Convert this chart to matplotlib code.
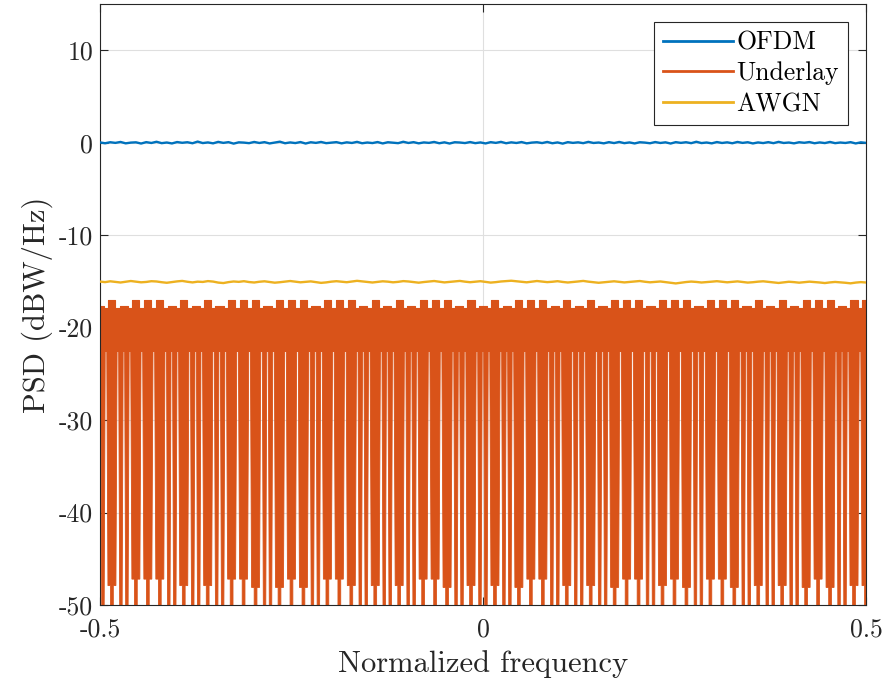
import numpy as np
import matplotlib
matplotlib.use("Agg")
import matplotlib.pyplot as plt
from matplotlib.lines import Line2D

# ---------------- data ----------------
x_ticks = [-0.5, 0, 0.5]
x_tick_labels = ["-0.5", "0", "0.5"]
y_ticks = [-50, -40, -30, -20, -10, 0, 10]
y_tick_labels = ["-50", "-40", "-30", "-20", "-10", "0", "10"]
series_names = ["OFDM", "Underlay", "AWGN"]

# OFDM PSD (dBW/Hz), evenly spaced over [-0.5, 0.5]
ofdm_psd = [
    0.03, -0.06, 0.05, -0.02, 0.08, -0.07, 0.01, 0.04, -0.09, 0.06,
    -0.03, 0.10, -0.05, 0.02, -0.08, 0.07, -0.01, 0.05, -0.06, 0.12,
    -0.04, 0.03, -0.07, 0.09, -0.02, 0.06, -0.10, 0.04, 0.01, -0.05,
    0.08, -0.03, 0.06, -0.08, 0.02, 0.11, -0.06, 0.03, -0.04, 0.07,
    -0.09, 0.05, -0.02, 0.08, -0.05, 0.01, 0.06, -0.07, 0.04, -0.03,
    0.09, -0.06, 0.02, -0.04, 0.07, -0.08, 0.05, 0.00, -0.05, 0.10,
    -0.03, 0.06, -0.07, 0.03, -0.02, 0.08, -0.06, 0.04, -0.09, 0.05,
    0.02, -0.04, 0.07, -0.05, 0.03, -0.08, 0.06, -0.02, 0.09, -0.06,
    0.04, -0.03, 0.07, -0.07, 0.01, 0.05, -0.04, 0.08, -0.06, 0.03,
    -0.10, 0.06, -0.02, 0.04, -0.05, 0.09, -0.03, 0.02, -0.07, 0.06,
    -0.04, 0.08, -0.05, 0.03, -0.08, 0.05, 0.01, -0.06, 0.07, -0.03,
    0.04, -0.09, 0.06, -0.02, 0.05, -0.05, 0.10, -0.04, 0.02, -0.07,
    0.07, -0.03, 0.04, -0.06, 0.08, -0.02, 0.05, -0.08, 0.03, -0.04,
    0.06, -0.05, 0.09, -0.03, 0.02, -0.07, 0.05, -0.01, 0.07, -0.06,
    0.03, -0.04, 0.08, -0.05, 0.02, -0.03, 0.06, -0.08, 0.04, -0.02,
]

# AWGN PSD (dBW/Hz), evenly spaced over [-0.5, 0.5]
awgn_psd = [
    -15.02, -15.08, -14.99, -15.05, -15.12, -15.04, -14.96, -15.03, -15.10, -15.06,
    -14.98, -15.01, -15.09, -15.15, -15.07, -15.00, -14.95, -15.04, -15.11, -15.03,
    -15.06, -14.97, -15.02, -15.13, -15.18, -15.08, -15.01, -15.05, -14.98, -15.07,
    -15.12, -15.04, -14.99, -15.06, -15.14, -15.09, -15.02, -14.96, -15.03, -15.10,
    -15.05, -15.00, -15.08, -15.16, -15.11, -15.03, -14.98, -15.04, -15.09, -15.02,
    -14.94, -15.00, -15.07, -15.12, -15.06, -14.99, -15.03, -15.10, -15.05, -14.97,
    -15.01, -15.08, -15.14, -15.07, -15.02, -14.96, -15.04, -15.11, -15.06, -15.00,
    -14.95, -15.03, -15.09, -15.04, -14.98, -15.06, -15.13, -15.08, -15.01, -14.97,
    -14.93, -14.99, -15.05, -15.10, -15.03, -14.96, -15.02, -15.08, -15.04, -14.98,
    -15.06, -15.12, -15.07, -15.01, -14.95, -15.03, -15.09, -15.15, -15.10, -15.04,
    -14.99, -15.05, -15.11, -15.06, -15.00, -14.96, -15.04, -15.10, -15.05, -15.01,
    -15.08, -15.16, -15.22, -15.14, -15.07, -15.02, -15.06, -15.12, -15.08, -15.03,
    -14.98, -15.04, -15.10, -15.05, -15.00, -15.07, -15.13, -15.09, -15.03, -14.99,
    -15.05, -15.11, -15.17, -15.10, -15.04, -15.08, -15.14, -15.09, -15.03, -15.07,
    -15.12, -15.18, -15.11, -15.06, -15.10, -15.15, -15.21, -15.13, -15.08, -15.12,
]

# Underlay: subcarrier groups of width 1/64 centred at -0.5 + n/64 (n = 0..64).
# 'A' groups are raised and carry one wide null, 'B' groups carry two narrow nulls.
slot_kind = ("BABAAABABA" "BAAABAAABA" "AABABABAAA" "BABABAAABA"
             "BABAAABAAA" "BAAABABABA" "AABAA")
peak_level = -17.0       # top of the raised groups
shoulder_level = -17.65  # top of the plain groups
base_level = -17.9       # level between groups
ripple_floor = -22.6     # lower edge of the dense ripple band
# depth where each wide null narrows into its stem (one per 'A' group, in order)
null_depth_a = [
    -47.9, -47.2, -47.2, -47.2, -47.9, -47.9, -47.2, -47.2, -48.1, -48.1,
    -47.2, -48.1, -47.2, -47.2, -47.9, -47.9, -47.9, -47.2, -47.2, -48.1,
    -47.9, -47.9, -48.1, -47.2, -47.2, -47.9, -47.9, -48.1, -47.2, -47.2,
    -47.9, -47.2, -48.1, -47.2, -47.2, -48.1, -47.9, -47.9, -48.1, -47.2,
    -48.1, -47.9, -47.9,
]
null_depth_b = -60.0     # narrow nulls run off the bottom of the axes

# ---------------- style ----------------
c_ofdm, c_under, c_awgn = "#0072BD", "#D95319", "#EDB120"
slot_w = 1.0 / 64
bump_half = 0.0046
shoulder_half = 0.0055
wide_half_top, wide_half_bot, stem_half = 0.0068, 0.0052, 0.0018
pair_offset, narrow_half_top, narrow_half_bot = 0.0039, 0.0030, 0.0016

plt.rcParams["font.family"] = "cmr10"
plt.rcParams["axes.unicode_minus"] = False
plt.rcParams["mathtext.fontset"] = "cm"

fig = plt.figure(figsize=(8.87, 6.89), dpi=100)
ax = fig.add_axes([0.1127, 0.1219, 0.8636, 0.8723])

# OFDM
xo = np.linspace(-0.5, 0.5, len(ofdm_psd))
ax.plot(xo, ofdm_psd, color=c_ofdm, lw=1.7, zorder=3)

# Underlay: ripple band with group-dependent top, plus the spectral nulls
ux, uy = [], []
polys = []
ia = 0
for n, kind in enumerate(slot_kind):
    c = -0.5 + n * slot_w
    h = bump_half if kind == "A" else shoulder_half
    top = peak_level if kind == "A" else shoulder_level
    ux += [c - slot_w / 2, c - h, c - h, c + h, c + h, c + slot_w / 2]
    uy += [base_level, base_level, top, top, base_level, base_level]
    if kind == "A":
        d = null_depth_a[ia]
        ia += 1
        polys.append((
            [c - wide_half_top, c - wide_half_bot, c - stem_half, c - stem_half,
             c + stem_half, c + stem_half, c + wide_half_bot, c + wide_half_top],
            [ripple_floor + 1, d, d, -60, -60, d, d, ripple_floor + 1]))
    else:
        for s in (-1, 1):
            m = c + s * pair_offset
            polys.append((
                [m - narrow_half_top, m - narrow_half_bot, m - narrow_half_bot,
                 m + narrow_half_bot, m + narrow_half_bot, m + narrow_half_top],
                [ripple_floor + 1, -50, null_depth_b, null_depth_b, -50, ripple_floor + 1]))

ux = np.array(ux)
uy = np.array(uy)
ax.fill_between(ux, ripple_floor, uy, color=c_under, lw=0, zorder=2)
ax.plot(ux, uy, color=c_under, lw=0.8, zorder=2)
for px, py in polys:
    ax.fill(px, py, color=c_under, lw=0.6, ec=c_under, zorder=2)

# AWGN
xa = np.linspace(-0.5, 0.5, len(awgn_psd))
ax.plot(xa, awgn_psd, color=c_awgn, lw=1.7, zorder=3)

# axes
ax.set_xlim(-0.5, 0.5)
ax.set_ylim(-50, 15)
ax.set_xticks(x_ticks)
ax.set_xticklabels(x_tick_labels)
ax.set_yticks(y_ticks)
ax.set_yticklabels(y_tick_labels)
ax.tick_params(direction="in", length=6, width=0.8, colors="#262626",
               labelsize=18.5, top=True, right=True)
ax.tick_params(axis="x", pad=9)
ax.tick_params(axis="y", pad=5)
for sp in ax.spines.values():
    sp.set_color("#262626")
    sp.set_linewidth(0.8)
ax.set_axisbelow(True)
ax.grid(True, color="#dfdfdf", lw=0.8)
ax.set_xlabel("Normalized frequency", fontsize=22, color="#262626", labelpad=6)
ax.set_ylabel("PSD (dBW/Hz)", fontsize=22, color="#262626", labelpad=4)

handles = [Line2D([], [], color=c, lw=2.0) for c in (c_ofdm, c_under, c_awgn)]
leg = ax.legend(handles, series_names, loc="upper right", fontsize=18.5,
                frameon=True, fancybox=False, framealpha=1, edgecolor="#262626",
                handlelength=2.7, handletextpad=0.15, labelspacing=0.27,
                borderpad=0.35, borderaxespad=0.7)
leg.get_frame().set_linewidth(0.8)
leg.set_zorder(5)

fig.savefig("out.png", dpi=100)
